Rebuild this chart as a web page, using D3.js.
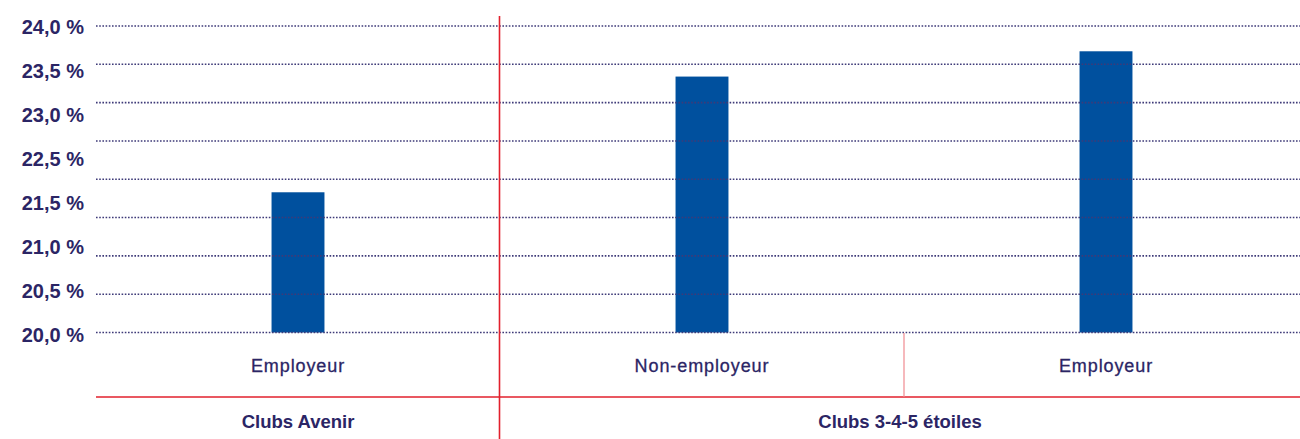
<!DOCTYPE html>
<html><head><meta charset="utf-8">
<script src="https://cdn.jsdelivr.net/npm/d3@7/dist/d3.min.js"></script>
<style>
html,body{margin:0;padding:0;background:#fff;}
svg{display:block;font-family:"Liberation Sans",Arial,Helvetica,sans-serif;}
</style></head>
<body>
<svg id="chart" width="1300" height="439"></svg>
<script>
const categories = ["Employeur", "Non-employeur", "Employeur"];
const groups = ["Clubs Avenir", "Clubs 3-4-5 étoiles", "Clubs 3-4-5 étoiles"];
const values = [21.83, 23.34, 23.67];
const gridValues = [20.0, 20.5, 21.0, 21.5, 22.0, 22.5, 23.0, 23.5, 24.0];
const tickLabels = ["24,0 %", "23,5 %", "23,0 %", "22,5 %", "21,5 %", "21,0 %", "20,5 %", "20,0 %"];

const svg = d3.select("#chart");
const navy = "#2b2565", blue = "#00509e", red = "#e2202c";

const x = d3.scaleBand().domain(d3.range(categories.length)).range([96, 1308]);
const y = d3.scaleLinear().domain([20, 24]).range([332.5, 26]);
const barW = x.bandwidth() * 0.131;

// bars
svg.append("g").selectAll("rect").data(values).join("rect")
  .attr("x", (d, i) => x(i) + x.bandwidth() / 2 - barW / 2)
  .attr("y", d => y(d))
  .attr("width", barW)
  .attr("height", d => y(20) - y(d))
  .attr("fill", blue);

// dotted gridlines over the bars
svg.append("g").selectAll("line").data(gridValues).join("line")
  .attr("x1", 96).attr("x2", 1300)
  .attr("y1", d => y(d)).attr("y2", d => y(d))
  .attr("stroke", "#3e3a78").attr("stroke-width", 1.6)
  .attr("stroke-dasharray", "1.6 1.6");

// y tick labels spread evenly between the top and bottom gridlines
const yl = d3.scalePoint().domain(tickLabels).range([y(24) + 1, y(20) + 2]);
svg.append("g").selectAll("text").data(tickLabels).join("text")
  .attr("x", 84).attr("y", d => yl(d))
  .attr("dy", "0.35em").attr("text-anchor", "end")
  .attr("font-size", 20).attr("font-weight", "bold").attr("fill", navy)
  .text(d => d);

// category labels
svg.append("g").selectAll("text").data(categories).join("text")
  .attr("x", (d, i) => x(i) + x.bandwidth() / 2).attr("y", 366)
  .attr("dy", "0.35em").attr("text-anchor", "middle")
  .attr("font-size", 18).attr("letter-spacing", 0.9).attr("fill", navy)
  .attr("stroke", navy).attr("stroke-width", 0.3)
  .text(d => d);

// group separators
const groupNames = [...new Set(groups)];
const groupSpans = groupNames.map(g => {
  const idx = groups.map((v, i) => v === g ? i : -1).filter(i => i >= 0);
  return { name: g, x0: x(idx[0]), x1: Math.min(x(idx[idx.length - 1]) + x.bandwidth(), 1300) };
});
svg.append("line").attr("x1", 96).attr("x2", 1300).attr("y1", 397).attr("y2", 397)
  .attr("stroke", red).attr("stroke-width", 1.6);
svg.append("line").attr("x1", groupSpans[1].x0 - 0.5).attr("x2", groupSpans[1].x0 - 0.5)
  .attr("y1", 16).attr("y2", 439).attr("stroke", red).attr("stroke-width", 1.6);
svg.append("line").attr("x1", x(2)).attr("x2", x(2))
  .attr("y1", 333).attr("y2", 397).attr("stroke", "#f08a90").attr("stroke-width", 1.2);

svg.append("g").selectAll("text").data(groupSpans).join("text")
  .attr("x", d => (d.x0 + d.x1) / 2)
  .attr("y", 422).attr("dy", "0.35em").attr("text-anchor", "middle")
  .attr("font-size", 18.5).attr("font-weight", "bold").attr("fill", navy)
  .text(d => d.name);
</script>
</body></html>
